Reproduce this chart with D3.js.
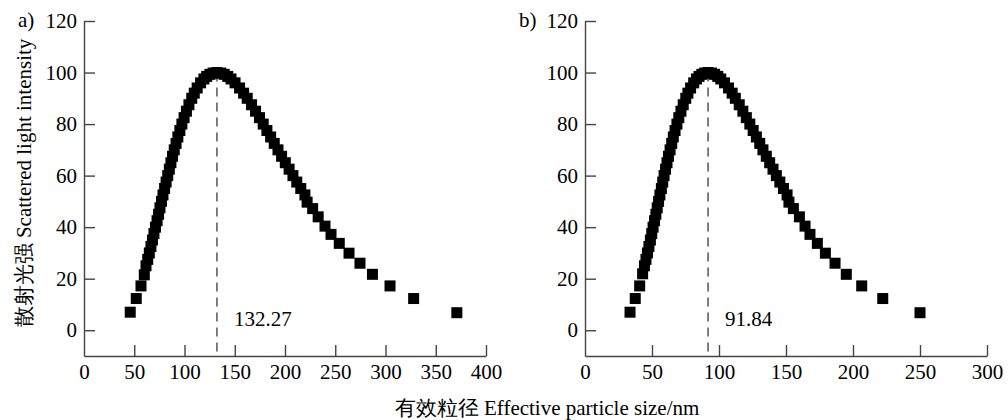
<!DOCTYPE html>
<html>
<head>
<meta charset="utf-8">
<script src="https://cdn.jsdelivr.net/npm/d3@7"></script>
<style>
  body { margin: 0; background: #fff; }
</style>
</head>
<body>
<div id="chart"></div>
<script>
    // Data
    const sizeA = [46, 52, 56.7, 60, 61.7, 63.4, 65.0, 66.6, 68.1, 69.6, 71.1, 72.7, 74.2, 75.6, 77.1, 78.6, 80.2, 81.7, 83.3, 84.9, 86.5, 88.1, 89.8, 91.6, 93.4, 95.4, 97.4, 99.6, 101.9, 104.4, 107.2, 109.7, 112.6, 116.0, 119.3, 122.1, 125.3, 128.5, 132.27, 136.1, 139.5, 143.0, 146.3, 150.3, 154.8, 158.8, 162.4, 166.7, 170.7, 174.6, 178.3, 182.0, 185.7, 189.3, 193.0, 196.6, 200.3, 204.1, 207.9, 211.7, 215.7, 219.8, 222, 227.5, 233, 239.8, 245.8, 254, 263.7, 274.6, 287, 304.5, 328, 371];
    const intensityA = [7, 12.3, 17.2, 21.5, 25, 27.5, 30, 32.5, 35, 37.5, 40, 42.5, 45, 47.5, 50, 52.5, 55, 57.5, 60, 62.5, 65, 67.5, 70, 72.5, 75, 77.5, 80, 82.5, 85, 87.5, 90, 92, 94, 96, 97.5, 98.5, 99.3, 99.8, 100, 99.8, 99.3, 98.5, 97.5, 96, 94, 92, 90, 87.5, 85, 82.5, 80, 77.5, 75, 72.5, 70, 67.5, 65, 62.5, 60, 57.5, 55, 52.5, 49.7, 47.2, 44, 40.4, 37.2, 33.7, 29.9, 26, 21.7, 17.2, 12.3, 6.8];

    const sizeB = [33.6, 37.5, 40.8, 43, 44.4, 45.5, 46.6, 47.7, 48.8, 49.8, 50.8, 51.9, 52.9, 53.9, 54.9, 55.9, 57.0, 58.0, 59.0, 60.1, 61.2, 62.3, 63.5, 64.7, 65.9, 67.2, 68.6, 70.0, 71.6, 73.3, 75.2, 76.8, 78.8, 81.1, 83.2, 85.1, 87.2, 89.3, 91.84, 94.4, 96.7, 99.1, 101.3, 104.1, 107.1, 109.8, 112.2, 115.1, 117.8, 120.4, 123.0, 125.5, 127.9, 130.4, 132.8, 135.3, 137.8, 140.3, 142.8, 145.4, 148.1, 150.8, 152.2, 155.5, 160, 164.2, 167.9, 173.4, 179.4, 186.6, 195, 206.5, 222.2, 250];
    const intensityB = [7, 12.3, 17.2, 21.9, 25, 27.5, 30, 32.5, 35, 37.5, 40, 42.5, 45, 47.5, 50, 52.5, 55, 57.5, 60, 62.5, 65, 67.5, 70, 72.5, 75, 77.5, 80, 82.5, 85, 87.5, 90, 92, 94, 96, 97.5, 98.5, 99.3, 99.8, 100, 99.8, 99.3, 98.5, 97.5, 96, 94, 92, 90, 87.5, 85, 82.5, 80, 77.5, 75, 72.5, 70, 67.5, 65, 62.5, 60, 57.5, 55, 52.5, 49.7, 47.2, 44, 40.4, 37.2, 33.7, 29.9, 26, 21.7, 17.2, 12.3, 6.8];

    const peaks = [132.27, 91.84];
    const panelLetters = ["a)", "b)"];
    const xTicksA = [0, 50, 100, 150, 200, 250, 300, 350, 400];
    const xTicksB = [0, 50, 100, 150, 200, 250, 300];
    const yTicks = [0, 20, 40, 60, 80, 100, 120];

    const width = 1008, height = 420;
    const svg = d3.select("#chart").append("svg")
      .attr("width", width)
      .attr("height", height);

    const axisColor = "#444";
    const serif = '"Liberation Serif"';
    const fs = 21;

    const panels = [
      { sizes: sizeA, vals: intensityA, xmax: 400, ticks: xTicksA, left: 84, right: 486, peak: peaks[0], letter: panelLetters[0] },
      { sizes: sizeB, vals: intensityB, xmax: 300, ticks: xTicksB, left: 585, right: 987, peak: peaks[1], letter: panelLetters[1] }
    ];

    const plotTop = 21, plotBottom = 356;

    panels.forEach(function (p) {
      const x = d3.scaleLinear().domain([0, p.xmax]).range([p.left, p.right]);
      const y = d3.scaleLinear().domain([-10, 120]).range([plotBottom, plotTop]);
      const g = svg.append("g");

      // axes
      const yAxis = g.append("g")
        .attr("transform", "translate(" + p.left + ",0)")
        .call(d3.axisLeft(y).tickValues(yTicks).tickSize(-11).tickSizeOuter(0).tickPadding(7));
      const xAxis = g.append("g")
        .attr("transform", "translate(0," + plotBottom + ")")
        .call(d3.axisBottom(x).tickValues(p.ticks).tickSize(-11).tickSizeOuter(0).tickPadding(8));

      [yAxis, xAxis].forEach(function (a) {
        a.attr("font-family", serif).attr("font-size", fs);
        a.select(".domain").attr("stroke", axisColor).attr("stroke-width", 1.4);
        a.selectAll(".tick line").attr("stroke", axisColor).attr("stroke-width", 1.4);
        a.selectAll(".tick text").attr("fill", "#000");
      });
      xAxis.selectAll(".tick").filter(d => d === 0).select("line").remove();

      // dashed peak line
      g.append("line")
        .attr("x1", x(p.peak)).attr("x2", x(p.peak))
        .attr("y1", y(100)).attr("y2", plotBottom)
        .attr("stroke", "#555")
        .attr("stroke-width", 1.5)
        .attr("stroke-dasharray", "9,6");

      // square markers
      const pts = p.sizes.map((s, i) => ({ s: s, v: p.vals[i] }));
      const m = 11;
      g.selectAll("rect.pt")
        .data(pts)
        .join("rect")
        .attr("class", "pt")
        .attr("x", d => x(d.s) - m / 2)
        .attr("y", d => y(d.v) - m / 2)
        .attr("width", m)
        .attr("height", m)
        .attr("fill", "#000");

      // peak value
      g.append("text")
        .attr("x", x(p.peak) + 17)
        .attr("y", 326)
        .attr("font-family", serif)
        .attr("font-size", fs)
        .text(p.peak.toFixed(2));

      // panel letter
      g.append("text")
        .attr("x", p.left - 66)
        .attr("y", 27)
        .attr("font-family", serif)
        .attr("font-size", fs)
        .text(p.letter);
    });

    // axis titles
    svg.append("text")
      .attr("transform", "translate(24,183) rotate(-90)")
      .attr("text-anchor", "middle")
      .attr("dominant-baseline", "central")
      .attr("font-family", serif)
      .attr("font-size", fs)
      .text("散射光强 Scattered light intensity");

    svg.append("text")
      .attr("x", 547)
      .attr("y", 408)
      .attr("text-anchor", "middle")
      .attr("dominant-baseline", "central")
      .attr("font-family", serif)
      .attr("font-size", fs)
      .text("有效粒径 Effective particle size/nm");
</script>
</body>
</html>
